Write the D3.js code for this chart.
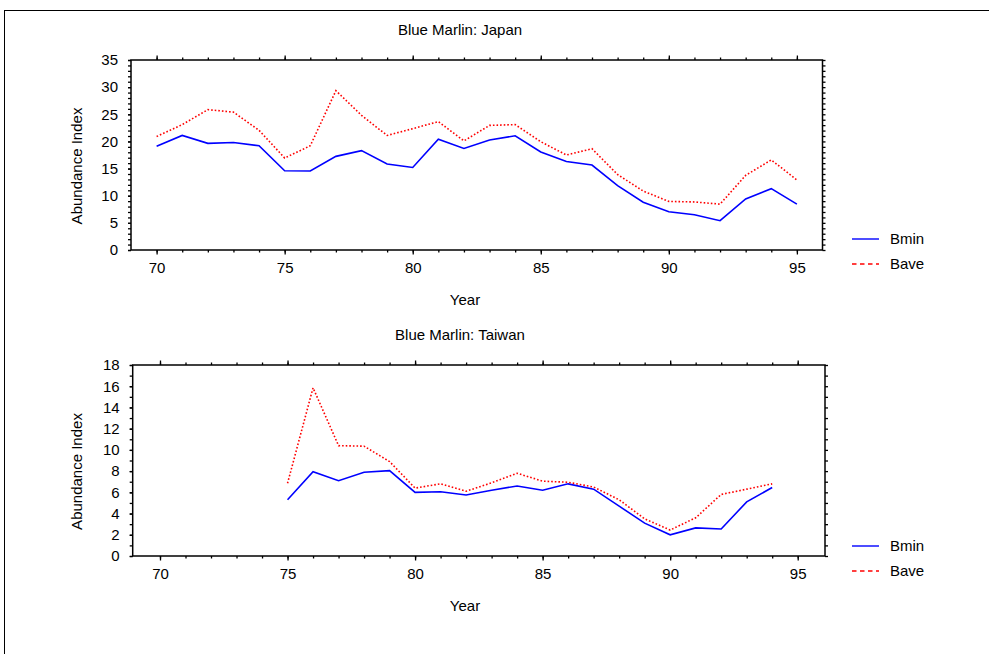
<!DOCTYPE html>
<html><head><meta charset="utf-8">
<script src="https://cdn.jsdelivr.net/npm/d3@7"></script>
<style>body{margin:0;background:#fff}svg{display:block}text{font-family:"Liberation Sans",Arial,sans-serif;fill:#000}</style>
</head><body><svg id="c" width="989" height="654"></svg>
<script>
const yearsJapan = [70,71,72,73,74,75,76,77,78,79,80,81,82,83,84,85,86,87,88,89,90,91,92,93,94,95];
const japanBmin = [19.1,21.1,19.65,19.8,19.2,14.6,14.55,17.25,18.3,15.85,15.2,20.4,18.7,20.25,21.05,18.05,16.3,15.65,11.85,8.8,7.05,6.5,5.4,9.4,11.3,8.45];
const japanBave = [20.9,23.1,25.85,25.4,22.05,16.95,19.2,29.35,24.8,21.1,22.35,23.65,20.1,22.95,23.1,19.95,17.5,18.65,13.9,10.85,8.95,8.85,8.45,13.75,16.6,12.9];
const yearsTaiwan = [75,76,77,78,79,80,81,82,83,84,85,86,87,88,89,90,91,92,93,94];
const taiwanBmin = [5.3,7.95,7.1,7.9,8.05,6.0,6.05,5.75,6.2,6.6,6.2,6.8,6.3,4.7,3.1,2.0,2.65,2.55,5.1,6.45];
const taiwanBave = [6.85,15.85,10.4,10.35,8.9,6.4,6.8,6.1,6.9,7.8,7.05,6.95,6.5,5.3,3.5,2.45,3.6,5.8,6.3,6.8];
const xTicks = [70,75,80,85,90,95];
const yTicksJapan = [0,5,10,15,20,25,30,35];
const yTicksTaiwan = [0,2,4,6,8,10,12,14,16,18];
const seriesNames = ["Bmin","Bave"];

const svg = d3.select("#c");
svg.append("rect").attr("x",4.5).attr("y",10.5).attr("width",1100).attr("height",800)
  .attr("fill","none").attr("stroke","#000").attr("stroke-width",1);

function panel(cfg){
  const g = svg.append("g");
  const x = d3.scaleLinear().domain(cfg.xd).range([cfg.l, cfg.r]);
  const y = d3.scaleLinear().domain(cfg.yd).range([cfg.b, cfg.t]);
  g.append("text").attr("x",cfg.tx).attr("y",cfg.t-25).attr("text-anchor","middle")
    .attr("font-size","15px").text(cfg.title);
  g.append("rect").attr("x",cfg.l).attr("y",cfg.t).attr("width",cfg.r-cfg.l).attr("height",cfg.b-cfg.t)
    .attr("fill","none").attr("stroke","#000").attr("stroke-width",1.5);
  const minorX = d3.range(70,96,1);
  const minorY = d3.range(cfg.yd[0],cfg.yd[1]+0.001,1);
  const ax = (a)=>a.tickSizeOuter(0);
  g.append("g").attr("transform",`translate(0,${cfg.b})`)
    .call(ax(d3.axisBottom(x).tickValues(minorX).tickSize(2.5).tickFormat("")));
  g.append("g").attr("transform",`translate(0,${cfg.b})`)
    .call(ax(d3.axisBottom(x).tickValues(xTicks).tickSize(4.5).tickPadding(8)));
  g.append("g").attr("transform",`translate(0,${cfg.t})`)
    .call(ax(d3.axisTop(x).tickValues(minorX).tickSize(2.5).tickFormat("")));
  g.append("g").attr("transform",`translate(0,${cfg.t})`)
    .call(ax(d3.axisTop(x).tickValues(xTicks).tickSize(4.5).tickFormat("")));
  g.append("g").attr("transform",`translate(${cfg.l},0)`)
    .call(ax(d3.axisLeft(y).tickValues(minorY).tickSize(3).tickFormat("")));
  g.append("g").attr("transform",`translate(${cfg.l},0)`)
    .call(ax(d3.axisLeft(y).tickValues(cfg.yt).tickSize(3).tickPadding(10)));
  g.append("g").attr("transform",`translate(${cfg.r},0)`)
    .call(ax(d3.axisRight(y).tickValues(minorY).tickSize(3).tickFormat("")));
  g.selectAll(".domain").remove();
  g.selectAll(".tick line").attr("stroke","#000").attr("stroke-width",1.3);
  g.selectAll(".tick text").attr("font-size","15px").attr("font-family","Liberation Sans, Arial, sans-serif").attr("fill","#000");
  g.append("text").attr("x",cfg.xlx).attr("y",cfg.b+55).attr("text-anchor","middle").attr("font-size","15px").text("Year");
  g.append("text").attr("transform",`translate(82,${(cfg.t+cfg.b)/2+11}) rotate(-90)`)
    .attr("text-anchor","middle").attr("font-size","15px").text("Abundance Index");
  const line = d3.line().x((d,i)=>x(cfg.years[i])).y(d=>y(d));
  g.append("path").datum(cfg.bmin).attr("d",line).attr("fill","none")
    .attr("stroke","#0000ff").attr("stroke-width",1.6);
  g.append("path").datum(cfg.bave).attr("d",line).attr("fill","none")
    .attr("stroke","#ff0000").attr("stroke-width",1.6).attr("stroke-dasharray","1.6,2");
  seriesNames.forEach((n,i)=>{
    const ly = cfg.ly + i*25;
    g.append("line").attr("x1",852).attr("x2",879).attr("y1",ly).attr("y2",ly)
      .attr("stroke", i===0?"#0000ff":"#ff0000").attr("stroke-width",1.4)
      .attr("stroke-dasharray", i===0?null:"4.5,3.5");
    g.append("text").attr("x",890).attr("y",ly+5).attr("font-size","15px").text(n);
  });
}

panel({title:"Blue Marlin: Japan", xd:[69,96], yd:[0,35], l:131, r:822.5, t:60, b:250, tx:460, xlx:465,
  yt:yTicksJapan, years:yearsJapan, bmin:japanBmin, bave:japanBave, ly:239});
panel({title:"Blue Marlin: Taiwan", xd:[68.93,96.07], yd:[0,18], l:132.7, r:825, t:365, b:556, tx:460, xlx:465,
  yt:yTicksTaiwan, years:yearsTaiwan, bmin:taiwanBmin, bave:taiwanBave, ly:546});
</script></body></html>
